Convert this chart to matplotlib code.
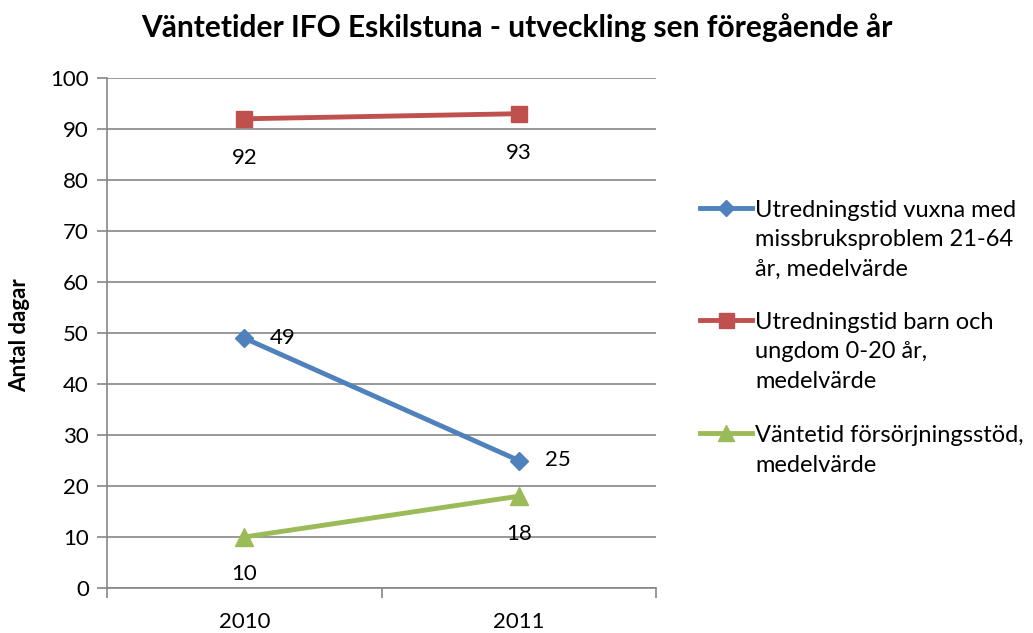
import matplotlib
matplotlib.use("Agg")
import matplotlib.pyplot as plt
from matplotlib.lines import Line2D

plt.rcParams['font.family'] = ['Lato', 'DejaVu Sans']

years = ["2010", "2011"]
vuxna = [49, 25]
barn = [92, 93]
forsorjning = [10, 18]
labels = ["Utredningstid vuxna med\nmissbruksproblem 21-64\når, medelvärde",
          "Utredningstid barn och\nungdom 0-20 år,\nmedelvärde",
          "Väntetid försörjningsstöd,\nmedelvärde"]
title = "Väntetider IFO Eskilstuna - utveckling sen föregående år"
ylabel = "Antal dagar"

colors = ["#4F81BD", "#C0504D", "#9BBB59"]
markers = ["D", "s", "^"]
msizes = [9, 12, 13]
series = [vuxna, barn, forsorjning]
label_offsets = [(28, 0), (0, -28), (0, -27)]

fig = plt.figure(figsize=(10.33, 6.33), dpi=100)
ax = fig.add_axes([107/1033, 45/633, 549/1033, 510/633])

x = list(range(len(years)))
for s, c, m, ms, off in zip(series, colors, markers, msizes, label_offsets):
    ax.plot(x, s, color=c, lw=3.5, marker=m, markersize=ms, zorder=3)
    for xi, v in zip(x, s):
        ax.annotate(str(v), (xi, v), xytext=off, textcoords="offset points",
                    ha="center", va="center", fontsize=16, color="black")

ax.set_xlim(-0.5, 1.5)
ax.set_ylim(0, 100)
ax.set_yticks(range(0, 101, 10))
ax.set_xticks([-0.5, 0.5, 1.5])
ax.set_xticklabels([])
ax.set_xticks(x, minor=True)
ax.set_xticklabels(years, minor=True, fontsize=16)
ax.tick_params(axis='x', which='minor', length=0, pad=17)
ax.tick_params(axis='x', which='major', length=7, color="#868686", width=1.2)
ax.tick_params(axis='y', length=7, color="#868686", width=1.2, labelsize=16, pad=6)
ax.grid(axis='y', color="#868686", lw=1.2)
ax.set_axisbelow(True)
for sp in ["top", "right"]:
    ax.spines[sp].set_visible(False)
for sp in ["left", "bottom"]:
    ax.spines[sp].set_color("#868686")
    ax.spines[sp].set_linewidth(1.2)

fig.text(0.5, 1 - 28/633, title, ha="center", va="center", fontsize=21.5, fontweight="bold")
fig.text(20/1033, 1 - 335/633, ylabel, rotation=90, ha="center", va="center",
         fontsize=16, fontweight="bold")

# legend
entry_y = [208, 320, 433]
for lab, c, m, ms, yy in zip(labels, colors, markers, msizes, entry_y):
    fy = 1 - yy/633
    fig.add_artist(Line2D([700/1033, 752/1033], [fy, fy], color=c, lw=3.5,
                          marker=None, transform=fig.transFigure))
    fig.add_artist(Line2D([726/1033], [fy], color=c, marker=m, markersize=ms*0.9,
                          lw=0, transform=fig.transFigure))
    fig.text(755/1033, fy + 8/633, lab, ha="left", va="top", fontsize=17,
             linespacing=1.5)

fig.savefig("out.png", dpi=100)
